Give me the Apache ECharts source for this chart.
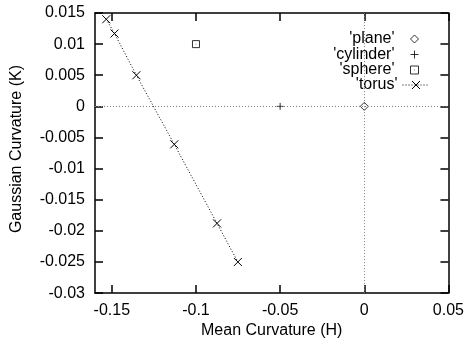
<!DOCTYPE html>
<html>
<head>
<meta charset="utf-8">
<script src="https://cdn.jsdelivr.net/npm/echarts@6/dist/echarts.min.js"></script>
<style>
  html, body {margin: 0; padding: 0; background: #fff;}
  #chart {width: 467px; height: 344px;}
</style>
</head>
<body>
<div id="chart"></div>
<script>
// values
const planeH = [0];
const planeK = [0];
const cylinderH = [-0.05];
const cylinderK = [0];
const sphereH = [-0.1];
const sphereK = [0.01];
const torusH = [-0.1533, -0.1484, -0.1354, -0.1129, -0.0875, -0.0751];
const torusK = [0.0140, 0.0117, 0.0050, -0.0061, -0.0188, -0.0250];
const xTicks = [-0.15, -0.1, -0.05, 0, 0.05];

const pairs = (xs, ys) => xs.map((x, i) => [x, ys[i]]);

const font = 'Liberation Sans, Arial, sans-serif';
const fs = 16;
const black = '#000';
const sym = {
  plane: 'path://M5,0 L10,5 L5,10 L0,5 Z',
  cylinder: 'path://M5,0 L5,10 M0,5 L10,5',
  sphere: 'path://M0,0 L10,0 L10,10 L0,10 Z M5,4.6 L5,5.4',
  torus: 'path://M0,0 L10,10 M0,10 L10,0'
};
const markStyle = {color: 'transparent', borderColor: black, borderWidth: 1};
const edge = {onZero: false, lineStyle: {color: black, width: 1.5}};
const tick = {inside: true, length: 8, lineStyle: {color: black, width: 1.5}};

const myChart = echarts.init(document.getElementById('chart'), null, {renderer: 'canvas'});

const legendBase = {
  orient: 'vertical',
  align: 'right',
  padding: 0,
  selectedMode: false,
  itemHeight: 8,
  itemWidth: 30,
  right: 48,
  textStyle: {fontFamily: font, fontSize: fs, color: black},
  itemStyle: markStyle
};

myChart.setOption({
  animation: false,
  textStyle: {fontFamily: font},
  grid: {left: 95, right: 15, top: 13, bottom: 45},
  legend: [
    Object.assign({}, legendBase, {data: ["'plane'"], top: 31}),
    Object.assign({}, legendBase, {data: ["'cylinder'"], top: 46.5}),
    Object.assign({}, legendBase, {data: ["'sphere'"], top: 62}),
    Object.assign({}, legendBase, {data: ["'torus'"], right: 37, top: 77, itemWidth: 27, itemHeight: 10,
      lineStyle: {color: black, width: 1, type: [1, 2]}})
  ],
  xAxis: [{
    type: 'value',
    position: 'bottom',
    min: -0.16,
    max: 0.05,
    name: 'Mean Curvature (H)',
    nameLocation: 'middle',
    nameGap: 25,
    nameTextStyle: {fontFamily: font, fontSize: fs, color: black},
    axisLine: edge,
    axisTick: Object.assign({customValues: xTicks}, tick),
    axisLabel: {customValues: xTicks, margin: 9, fontFamily: font, fontSize: fs, color: black},
    splitLine: {show: false}
  }, {
    type: 'value',
    position: 'top',
    min: -0.16,
    max: 0.05,
    axisLine: edge,
    axisTick: Object.assign({customValues: xTicks}, tick),
    axisLabel: {show: false},
    splitLine: {show: false}
  }],
  yAxis: [{
    type: 'value',
    position: 'left',
    min: -0.03,
    max: 0.015,
    interval: 0.005,
    name: 'Gaussian Curvature (K)',
    nameLocation: 'middle',
    nameGap: 70,
    nameTextStyle: {fontFamily: font, fontSize: fs, color: black, padding: [0, 0, 0, 8]},
    axisLine: edge,
    axisTick: tick,
    axisLabel: {margin: 10, fontFamily: font, fontSize: fs, color: black},
    splitLine: {show: false}
  }, {
    type: 'value',
    position: 'right',
    min: -0.03,
    max: 0.015,
    interval: 0.005,
    axisLine: edge,
    axisTick: tick,
    axisLabel: {show: false},
    splitLine: {show: false}
  }],
  series: [
    {
      name: "'plane'",
      type: 'scatter',
      data: pairs(planeH, planeK),
      symbol: sym.plane,
      symbolSize: 8,
      itemStyle: markStyle,
      z: 3,
      markLine: {
        silent: true,
        symbol: 'none',
        label: {show: false},
        lineStyle: {color: '#808080', width: 1, type: [1, 2]},
        data: [{xAxis: 0}, {yAxis: 0}]
      }
    },
    {
      name: "'cylinder'",
      type: 'scatter',
      data: pairs(cylinderH, cylinderK),
      symbol: sym.cylinder,
      symbolSize: 7,
      itemStyle: markStyle,
      z: 3
    },
    {
      name: "'sphere'",
      type: 'scatter',
      data: pairs(sphereH, sphereK),
      symbol: sym.sphere,
      symbolSize: 7,
      itemStyle: markStyle,
      z: 3
    },
    {
      name: "'torus'",
      type: 'line',
      data: pairs(torusH, torusK),
      symbol: sym.torus,
      symbolSize: 8,
      showAllSymbol: true,
      itemStyle: markStyle,
      lineStyle: {color: black, width: 1, type: [1, 2]},
      z: 3
    }
  ]
});
</script>
</body>
</html>
